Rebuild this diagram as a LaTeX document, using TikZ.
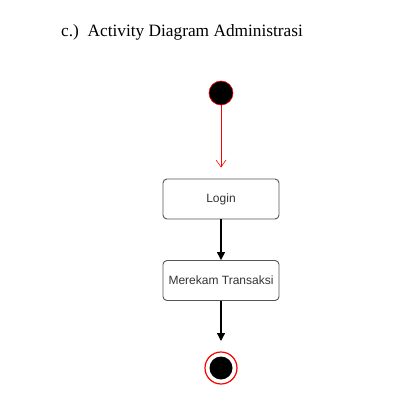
\documentclass[tikz,border=0pt]{standalone}
\usepackage{fontspec}
\setmainfont{Liberation Serif}
\newfontfamily\arialf{Liberation Sans}
\usetikzlibrary{arrows.meta}
\definecolor{boxline}{HTML}{555555}
\definecolor{txt}{HTML}{333333}
\tikzset{
  act/.style={draw=boxline, line width=0.9pt, rounded corners=4pt, minimum width=116pt, minimum height=40pt, inner sep=0pt, font=\arialf\fontsize{12}{14}\selectfont, text=txt, fill=white},
  flow/.style={line width=1.3pt, -{Triangle[length=8pt,width=8pt]}},
  redflow/.style={red, line width=0.6pt, -{Straight Barb[length=7pt,width=10pt]}},
}
\begin{document}
\begin{tikzpicture}[x=1pt,y=-1pt]
\useasboundingbox (0,0) rectangle (404,404);
\node[anchor=base west, font=\fontsize{17.3}{20}\selectfont, inner sep=0pt] (title) at (61,37) {c.)\ \ Activity Diagram Administrasi};
\node[circle, fill=black, draw=red, line width=0.6pt, minimum size=24pt, inner sep=0pt] (start) at (221,93) {};
\node[act] (login) at (221,199) {Login};
\node[act] (rekam) at (221,280.5) {Merekam Transaksi};
\node[circle, draw=red, line width=1.2pt, fill=white, minimum size=32pt, inner sep=0pt] (endo) at (221,368) {};
\node[circle, fill=black, minimum size=23pt, inner sep=0pt] (endi) at (221,368) {};
\coordinate (rtip) at (221,167.5);
\draw[redflow] (start) -- (rtip);
\draw[flow] (login) -- (rekam);
\coordinate (etip) at (221,341);
\draw[flow] (rekam) -- (etip);
\end{tikzpicture}
\end{document}
